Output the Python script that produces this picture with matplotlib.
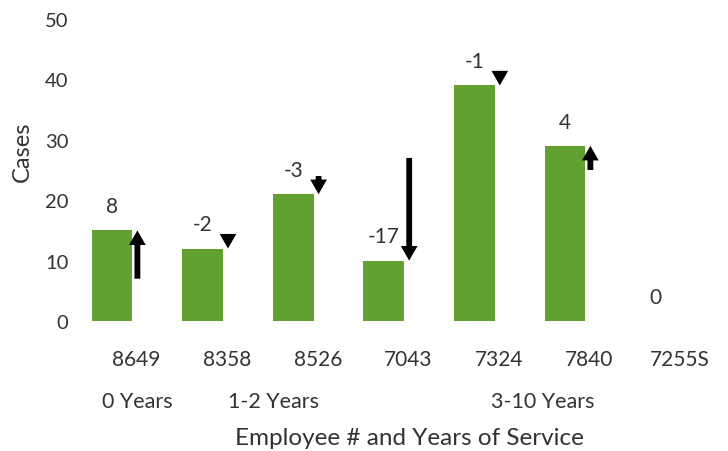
import matplotlib
matplotlib.use("Agg")
import matplotlib.pyplot as plt

employees = ["8649", "8358", "8526", "7043", "7324", "7840", "7255S"]
cases = [15, 12, 21, 10, 39, 29, 0]
change = [8, -2, -3, -17, -1, 4, 0]
groups = ["0 Years", "1-2 Years", "3-10 Years"]
group_pos = [0.28, 1.78, 4.75]

plt.rcParams["font.family"] = ["Lato", "DejaVu Sans"]
GREEN = "#62a030"
TXT = "#333333"

fig = plt.figure(figsize=(7.28, 4.52), dpi=100)
ax = fig.add_axes([70 / 728, 130 / 452, 630 / 728, 302 / 452])

x = list(range(len(employees)))
ax.bar(x, cases, width=0.45, color=GREEN)

for i, (v, c) in enumerate(zip(cases, change)):
    ax.text(i, v + 4.0, f"{c}", ha="center", va="center", fontsize=15, color=TXT)
    if c == 0:
        continue
    # arrow length = change in cases, ending at the bar top
    ax.annotate("", xy=(i + 0.28, v), xytext=(i + 0.28, v - c),
                arrowprops=dict(arrowstyle="simple,head_length=1.05,head_width=1.2,tail_width=0.42",
                                mutation_scale=10, fc="black", ec="none", lw=0,
                                shrinkA=0, shrinkB=0))

ax.set_ylim(0, 50)
ax.set_xlim(-0.464, 6.49)
ax.set_yticks(range(0, 51, 10))
ax.tick_params(axis="y", length=0, labelsize=14.5, labelcolor=TXT, pad=1)
ax.set_xticks([i + 0.27 for i in x])
ax.set_xticklabels(employees)
ax.tick_params(axis="x", length=0, labelsize=15, labelcolor=TXT, pad=20)
for s in ax.spines.values():
    s.set_visible(False)

for g, p in zip(groups, group_pos):
    ax.text(p, -13.3, g, ha="center", va="center", fontsize=15.5, color=TXT)

fig.text(22 / 728, 1 - 152 / 452, "Cases", rotation=90, ha="center", va="center",
         fontsize=17, color=TXT)
ax.text(3.28, -19.3, "Employee # and Years of Service", ha="center", va="center",
        fontsize=17.5, color=TXT)

fig.savefig("out.png", dpi=100)
